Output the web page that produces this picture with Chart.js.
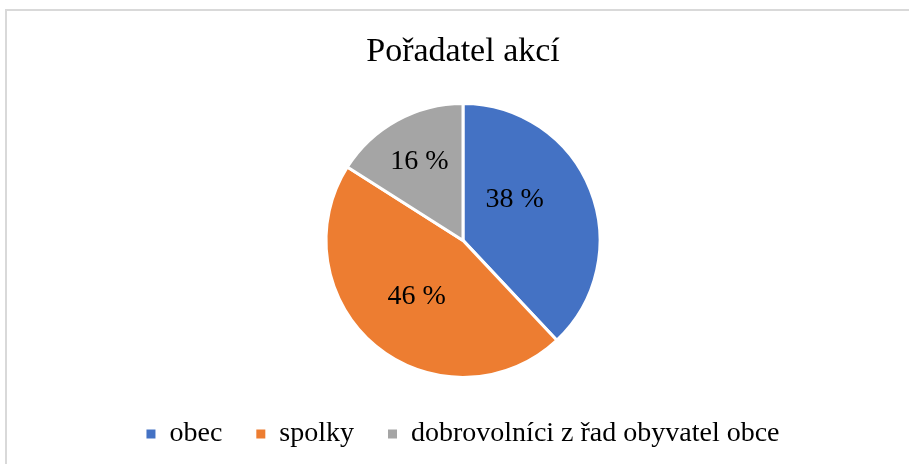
<!DOCTYPE html>
<html>
<head>
<meta charset="utf-8">
<script src="https://cdn.jsdelivr.net/npm/chart.js@4.4.0/dist/chart.umd.min.js"></script>
<style>
  html, body { margin: 0; padding: 0; background: #fff; }
  #ramecek { position: absolute; left: 5px; top: 9px; width: 904px; height: 455px;
             border-top: 2px solid #d9d9d9; border-left: 2px solid #d9d9d9; box-sizing: border-box; }
  #wrap { position: absolute; left: 0; top: 0; width: 909px; height: 464px; }
</style>
</head>
<body>
<div id="ramecek"></div>
<div id="wrap"><canvas id="graf" width="909" height="464"></canvas></div>
<script>
// data z obrázku
const kategorie = ['obec', 'spolky', 'dobrovolníci z řad obyvatel obce'];
const podily = [38, 46, 16];
const barvy = ['#4472c4', '#ed7d31', '#a5a5a5'];

const pismo = "'Liberation Serif', 'Times New Roman', serif";

// popisky procent uvnitř výsečí (umístění jako v Excelu)
const popiskyPlugin = {
  id: 'popisky',
  afterDatasetsDraw(chart, args, opts) {
    const ctx = chart.ctx;
    const meta = chart.getDatasetMeta(0);
    ctx.save();
    ctx.font = opts.size + 'px ' + pismo;
    ctx.fillStyle = '#000';
    ctx.textAlign = 'center';
    ctx.textBaseline = 'middle';
    meta.data.forEach((arc, i) => {
      const p = arc.getProps(['x', 'y', 'startAngle', 'endAngle', 'outerRadius'], true);
      const uhel = (p.startAngle + p.endAngle) / 2 + opts.posun[i] * Math.PI / 180;
      const r = p.outerRadius * opts.podil[i];
      ctx.fillText(podily[i] + ' %', p.x + Math.cos(uhel) * r, p.y + Math.sin(uhel) * r);
    });
    ctx.restore();
  }
};

new Chart(document.getElementById('graf'), {
  type: 'pie',
  data: {
    labels: kategorie,
    datasets: [{
      data: podily,
      backgroundColor: barvy,
      borderColor: '#fff',
      borderWidth: 3,
      radius: 137
    }]
  },
  options: {
    responsive: false,
    animation: false,
    layout: { padding: { left: 17, top: 32, bottom: 6 } },
    plugins: {
      title: {
        display: true,
        text: 'Pořadatel akcí',
        color: '#000',
        font: { family: pismo, size: 34, weight: 'normal' },
        padding: { top: 0, bottom: 22 }
      },
      legend: {
        position: 'bottom',
        labels: {
          color: '#000',
          font: { family: pismo, size: 28 },
          boxWidth: 9,
          boxHeight: 9,
          padding: 34,
          generateLabels(chart) {
            return Chart.overrides.pie.plugins.legend.labels.generateLabels(chart)
              .map(l => Object.assign(l, { lineWidth: 0, strokeStyle: l.fillStyle }));
          }
        }
      },
      tooltip: { enabled: false },
      popisky: { size: 28, podil: [0.48, 0.53, 0.66], posun: [-16.7, 0, 0] }
    }
  },
  plugins: [popiskyPlugin]
});
</script>
</body>
</html>
